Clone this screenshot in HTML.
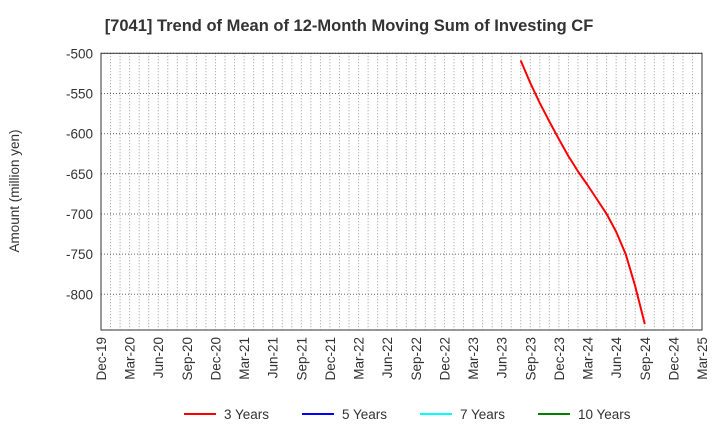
<!DOCTYPE html>
<html><head><meta charset="utf-8"><style>
body{margin:0;background:#fff;font-family:"Liberation Sans",sans-serif}
svg text{font-family:"Liberation Sans",sans-serif}
</style></head><body>
<svg id="c" width="720" height="440"></svg>
<script>
const xLabels=["Dec-19","Mar-20","Jun-20","Sep-20","Dec-20","Mar-21","Jun-21","Sep-21","Dec-21","Mar-22","Jun-22","Sep-22","Dec-22","Mar-23","Jun-23","Sep-23","Dec-23","Mar-24","Jun-24","Sep-24","Dec-24","Mar-25"];
const yTicks=[-500,-550,-600,-650,-700,-750,-800];
const startMonth=44;
const series3=[-509,-537,-562,-585,-607,-628,-647,-664,-682,-700,-722,-750,-790,-837];
const legend=[["3 Years","#ff0000"],["5 Years","#0000ff"],["7 Years","#00ffff"],["10 Years","#008000"]];
const L=101,R=702,T=53.3,B=330,yMax=-500,yMin=-844.5,nMonths=63;
const xs=m=>L+(R-L)*m/nMonths;
const ys=v=>T+(yMax-v)/(yMax-yMin)*(B-T);
const NS="http://www.w3.org/2000/svg";
const svg=document.getElementById('c');
function mk(t,a,txt){const e=document.createElementNS(NS,t);for(const k in a)e.setAttribute(k,a[k]);if(txt!=null)e.textContent=txt;svg.appendChild(e);return e;}
let e=mk('text',{x:349,y:31,'text-anchor':'middle','font-size':16.5,'font-weight':'bold',fill:'#333'},'[7041]  Trend of Mean of 12-Month Moving Sum of Investing CF');


for(let m=1;m<nMonths;m++){e=mk('line',{x1:xs(m),x2:xs(m),y1:T,y2:B,stroke:'#999','stroke-dasharray':'1,2','stroke-width':1});

}
yTicks.forEach(v=>{const y=ys(v);
e=mk('line',{x1:L,x2:R,y1:y,y2:y,stroke:'#666','stroke-dasharray':'1,2','stroke-width':1});


e=mk('text',{x:L-8,y:y+5,'text-anchor':'end','font-size':13.5,fill:'#333'},v);

});
e=mk('rect',{x:L,y:T,width:R-L,height:B-T,fill:'none',stroke:'#333','stroke-width':1});


xLabels.forEach((s,i)=>{const x=xs(i*3);
e=mk('text',{transform:`translate(${x+5},${B+7}) rotate(-90)`,'text-anchor':'end','font-size':13.5,fill:'#333'},s);

});
e=mk('text',{transform:'translate(19,191) rotate(-90)','text-anchor':'middle','font-size':13.5,fill:'#333'},'Amount (million yen)');


const pts=series3.map((v,i)=>xs(startMonth+i).toFixed(1)+','+ys(v).toFixed(1)).join(' ');
e=mk('polyline',{points:pts,fill:'none',stroke:'#ff0000','stroke-width':2,'stroke-linejoin':'round'});


const lx=[184,302,420,538];
legend.forEach((l,i)=>{
e=mk('line',{x1:lx[i],x2:lx[i]+32,y1:414,y2:414,stroke:l[1],'stroke-width':2});


e=mk('text',{x:lx[i]+40,y:419,'font-size':13.5,fill:'#333'},l[0]);

});
</script>
</body></html>
